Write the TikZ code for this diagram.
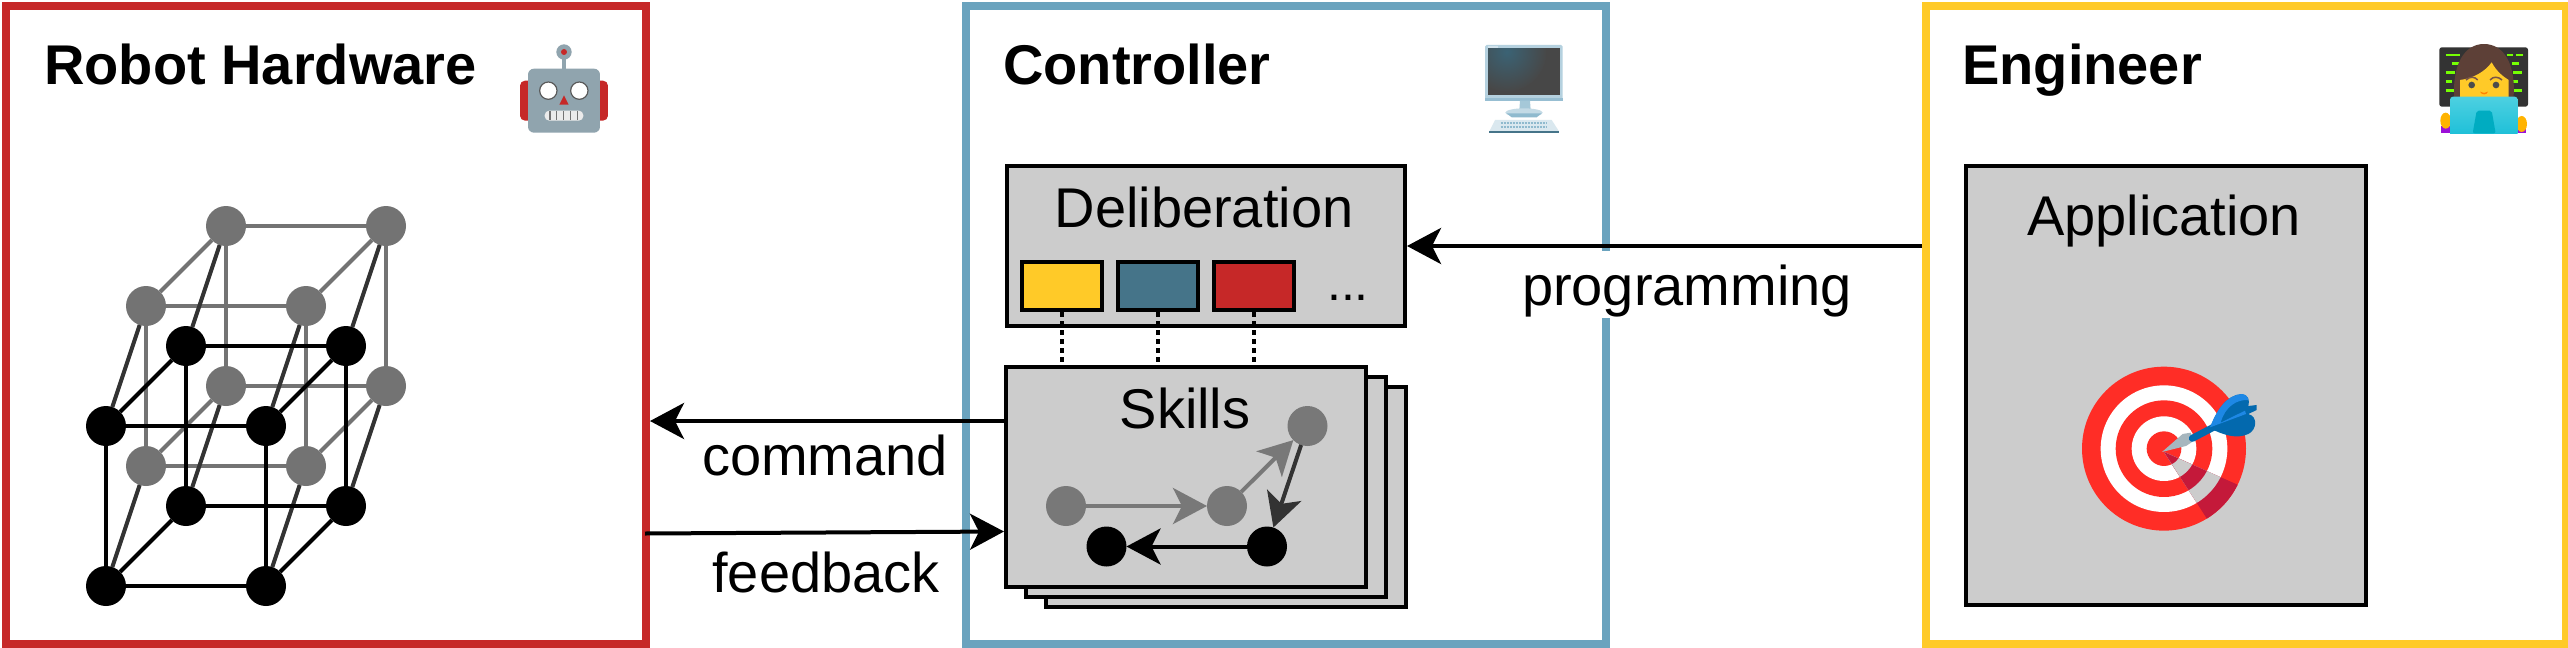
\documentclass[tikz,border=0pt]{standalone}
\usepackage{fontspec}
\setmainfont{Liberation Sans}
\usetikzlibrary{arrows.meta,calc}
\definecolor{cred}{HTML}{C62828}
\definecolor{cblue}{HTML}{6AA3BE}
\definecolor{cyel}{HTML}{FFCA28}
\definecolor{cteal}{HTML}{457489}
\definecolor{cgray}{HTML}{CCCCCC}
\definecolor{ngray}{HTML}{737373}
\definecolor{sgray}{HTML}{787878}
\definecolor{cdark}{HTML}{333333}
\definecolor{tred}{HTML}{FF2D26}
\definecolor{tshade}{HTML}{C4193A}
\definecolor{steel}{HTML}{90A4AE}
\definecolor{hair}{HTML}{5D4037}
\definecolor{brow}{HTML}{795548}
\definecolor{termg}{HTML}{76FF03}
\definecolor{lapa}{HTML}{4DD0E1}
\definecolor{lapb}{HTML}{14BCD6}
\definecolor{lapc}{HTML}{00ACC1}
\definecolor{handc}{HTML}{FFB300}
\definecolor{cuff}{HTML}{9C10D8}
\definecolor{dartd}{HTML}{0369AE}
\definecolor{dartl}{HTML}{1E88E5}
\tikzset{
  bigbox/.style={draw,line width=8pt,fill=white,minimum width=640pt,minimum height=638pt,inner sep=0pt},
  graybox/.style={draw=black,line width=4pt,fill=cgray,inner sep=0pt},
  slot/.style={draw=black,line width=4pt,minimum width=80pt,minimum height=48pt,inner sep=0pt},
  dot/.style={circle,minimum size=40pt,inner sep=0pt,outer sep=0pt},
  gdot/.style={dot,fill=ngray},
  kdot/.style={dot,fill=black},
  sdot/.style={dot,fill=sgray},
  title/.style={font=\fontsize{56}{60}\selectfont\bfseries,anchor=base west,inner sep=0pt},
  lbl/.style={font=\fontsize{56}{60}\selectfont,anchor=base,inner sep=0pt},
  gedge/.style={draw=ngray,line width=4pt},
  dedge/.style={draw=cdark,line width=4pt},
  kedge/.style={draw=black,line width=4pt},
  flow/.style={line width=4pt,-{Stealth[length=34pt,width=36pt,inset=9pt]}},
  dotline/.style={draw=black,line width=4pt,dash pattern=on 5pt off 4pt},
}
\begin{document}
\begin{tikzpicture}[x=1pt,y=-1pt]
\useasboundingbox (0,0) rectangle (2568,648);
\fill[white] (0,0) rectangle (2568,648);
% frames
\node[bigbox,draw=cred] (robot) at (326,325) {};
\node[bigbox,draw=cblue] (ctrl) at (1286,325) {};
\node[bigbox,draw=cyel] (eng) at (2246,325) {};
\node[title] (trobot) at (44,84) {Robot Hardware};
\node[title] (tctrl) at (1003,84) {Controller};
\node[title] (teng) at (1962,84) {Engineer};
% cube
\foreach \n/\x/\y in {a/226/226,b/386/226,c/146/306,d/306/306,e/226/386,f/386/386,g/146/466,h/306/466}
  \node[gdot] (\n) at (\x,\y) {};
\foreach \n/\x/\y in {A/186/346,B/346/346,C/106/426,D/266/426,E/186/506,F/346/506,G/106/586,H/266/586}
  \node[kdot] (\n) at (\x,\y) {};
\foreach \p/\q in {a/b,a/c,b/d,c/d,a/e,b/f,c/g,d/h,e/f,e/g,f/h,g/h}
  \draw[gedge] (\p) -- (\q);
\foreach \p/\q in {a/A,b/B,c/C,d/D,e/E,f/F,g/G,h/H}
  \draw[dedge] (\p) -- (\q);
\foreach \p/\q in {A/B,A/C,B/D,C/D,A/E,B/F,C/G,D/H,E/F,E/G,F/H,G/H}
  \draw[kedge] (\p) -- (\q);
% controller contents
\node[graybox,minimum width=398pt,minimum height=160pt] (delib) at (1206,246) {};
\node[lbl] (tdelib) at (1204,227) {Deliberation};
\node[slot,fill=cyel] (s1) at (1062,286) {};
\node[slot,fill=cteal] (s2) at (1158,286) {};
\node[slot,fill=cred] (s3) at (1254,286) {};
\node[lbl,font=\fontsize{50}{60}\selectfont] (dots) at (1348,300) {...};
\node[graybox,minimum width=360pt,minimum height=220pt] (sk3) at (1226,496.5) {};
\node[graybox,minimum width=360pt,minimum height=220pt] (sk2) at (1206,486.5) {};
\node[graybox,minimum width=360pt,minimum height=220pt] (sk1) at (1186,476.5) {};
\foreach \s in {s1,s2,s3}
  \draw[dotline] (\s.south) -- (sk1.north -| \s.south);
\node[lbl] (tskills) at (1185,428) {Skills};
\node[sdot] (n1) at (1066,506) {};
\node[sdot] (n2) at (1227,506) {};
\node[sdot] (n3) at (1307.5,426) {};
\node[kdot] (n4) at (1267,546.5) {};
\node[kdot] (n5) at (1106.5,546.5) {};
\draw[flow,draw=sgray,fill=sgray] (n1) -- (n2);
\draw[flow,draw=sgray,fill=sgray] (n2) -- (n3);
\draw[flow,draw=cdark,fill=cdark] (n3) -- (n4);
\draw[flow] (n4) -- (n5);
% engineer contents
\node[graybox,minimum width=400pt,minimum height=439pt] (app) at (2166,385.5) {};
\node[lbl] (tapp) at (2164,235) {Application};
% connectors
\node[lbl,fill=white,text height=54pt,text depth=13pt,inner xsep=3pt] (lprog) at (1687,305) {programming};
\draw[flow] (eng.west |- delib.east) -- (delib.east);
\coordinate (cmd) at (0,421);
\draw[flow] (sk1.west |- cmd) -- (robot.east |- cmd);
\coordinate (fbA) at (645,533.5);
\coordinate (fbB) at (1004,531.5);
\draw[flow] (fbA) -- (fbB);
\node[lbl] (lcmd) at (825,475) {command};
\node[lbl] (lfb) at (826,592) {feedback};
% robot icon
\begin{scope}[shift={(500,20)},x=0.3333pt,y=-0.3333pt]
  \fill[cred,rounded corners=5pt] (60,182) rectangle (324,302);
  \fill[steel] (185,100) rectangle (199,150);
  \fill[steel] (192,96) circle[radius=23];
  \fill[cred] (192,96) circle[radius=9];
  \fill[steel,rounded corners=6pt] (84,146) rectangle (300,338);
  \foreach \ex in {145,238}
    \filldraw[fill=white,draw=black!65,line width=1.2pt] (\ex,212) circle[radius=26];
  \fill[cred] (192,226) -- (178,254) -- (206,254) -- cycle;
  \fill[white!92!black,rounded corners=4.5pt] (134,272) rectangle (250,302);
  \foreach \mx in {150,170,190,212,232}
    \draw[black!55,line width=1.1pt] (\mx,274) -- (\mx,300);
\end{scope}
% monitor icon
\begin{scope}[shift={(1460,30)},x=0.3333pt,y=-0.3333pt]
  \fill[cblue!50!white,rounded corners=1.5pt] (75,45) rectangle (308,212);
  \fill[cblue!70!white] (75,204) rectangle (308,212);
  \fill[white!70!cblue] (84,48) rectangle (115,53);
  \begin{scope}
    \clip (84,55) rectangle (300,196);
    \fill[black!72] (84,55) rectangle (300,196);
    \shade[inner color=cteal!85!black,outer color=black!72] (140,65) circle[radius=120];
  \end{scope}
  \fill[cblue!60!white] (180,212) -- (210,212) -- (212,240) -- (178,240) -- cycle;
  \fill[cblue!40!white] (192,248) ellipse[x radius=56,y radius=13];
  \fill[cblue!75!white] (140,250) -- (245,250) -- (230,262) -- (155,262) -- cycle;
  \fill[cblue!25!white] (105,270) -- (275,270) -- (297,304) -- (88,304) -- cycle;
  \foreach \ky in {280,292}
    \draw[cblue!75!white,line width=2.2pt,dash pattern=on 2pt off 1pt] (122,\ky) -- (262,\ky);
  \fill[cteal] (88,303) rectangle (297,310);
\end{scope}
% engineer icon
\begin{scope}[shift={(2410,30)},x=0.3333pt,y=-0.3333pt]
  \fill[black!80,rounded corners=2.5pt] (88,52) rectangle (354,230);
  \foreach \xa/\xb/\yy in {107/150/75,125/150/101,107/135/127,107/127/154,107/135/181,
      290/308/75,318/338/75,305/328/101,310/336/127,308/323/154,308/336/181}
    \draw[termg,line width=2.8pt] (\xa,\yy) -- (\xb,\yy);
  \fill[cuff] (94,288) rectangle (120,310);
  \fill[cuff] (322,288) rectangle (348,310);
  \fill[handc] (107,272) ellipse[x radius=16,y radius=24];
  \fill[handc] (335,282) ellipse[x radius=16,y radius=24];
  \fill[hair] (133,210) .. controls (125,100) and (165,42) .. (222,42)
     .. controls (280,42) and (320,100) .. (310,210) -- cycle;
  \fill[cyel] (150,150) .. controls (190,145) and (225,125) .. (245,97)
     .. controls (260,125) and (280,140) .. (296,150) -- (296,210) -- (150,210) -- cycle;
  \draw[brow,line width=1.5pt] (168,150) .. controls (180,138) and (195,140) .. (203,150);
  \draw[brow,line width=1.5pt] (240,150) .. controls (250,138) and (265,140) .. (276,150);
  \fill[black!70] (185,165) circle[radius=10];
  \fill[black!70] (258,165) circle[radius=10];
  \fill[orange] (210,185) .. controls (218,190) and (226,190) .. (234,185) .. controls (230,196) and (215,196) .. cycle;
  \begin{scope}
    \clip (100,190) rectangle (340,310);
    \shade[top color=lapa,bottom color=lapb,rounded corners=3pt] (120,200) rectangle (323,340);
  \end{scope}
  \fill[lapc,rounded corners=2pt] (188,310) -- (200,242) -- (245,242) -- (257,310) -- cycle;
\end{scope}
% target icon
\begin{scope}[shift={(2060,350)},x=0.3333pt,y=-0.3333pt]
  \fill[tred] (312,296) circle[radius=246];
  \fill[white] (312,296) circle[radius=190];
  \fill[tred] (312,296) circle[radius=145];
  \fill[white] (312,296) circle[radius=97];
  \fill[tred] (312,296) circle[radius=52];
  \begin{scope}
    \clip (312,306) -- (440,505) -- (480,560) -- (600,500) -- (530,403) -- cycle;
    \fill[tshade] (312,296) circle[radius=246];
    \fill[cgray] (312,296) circle[radius=190];
    \fill[tshade] (312,296) circle[radius=145];
    \fill[cgray] (312,296) circle[radius=97];
    \fill[tshade] (312,296) circle[radius=52];
  \end{scope}
  \fill[steel!80!white] (306,306) -- (368,252) -- (392,248) -- (402,272) -- (378,288) -- cycle;
  \draw[dartd,line width=7pt,line cap=round] (397,265) -- (460,232);
  \fill[dartd] (450,235) .. controls (470,180) and (500,135) .. (545,132)
     .. controls (565,135) and (570,150) .. (565,168) -- (590,165) -- (590,180) -- (565,192)
     .. controls (595,200) and (590,240) .. (565,252) .. controls (530,268) and (490,255) .. (450,235) -- cycle;
  \fill[dartl] (450,232) .. controls (470,180) and (500,135) .. (545,132)
     .. controls (555,132) and (565,140) .. (565,150) .. controls (530,148) and (495,170) .. (482,218)
     -- (555,182) -- (558,192) -- cycle;
\end{scope}
\end{tikzpicture}
\end{document}
